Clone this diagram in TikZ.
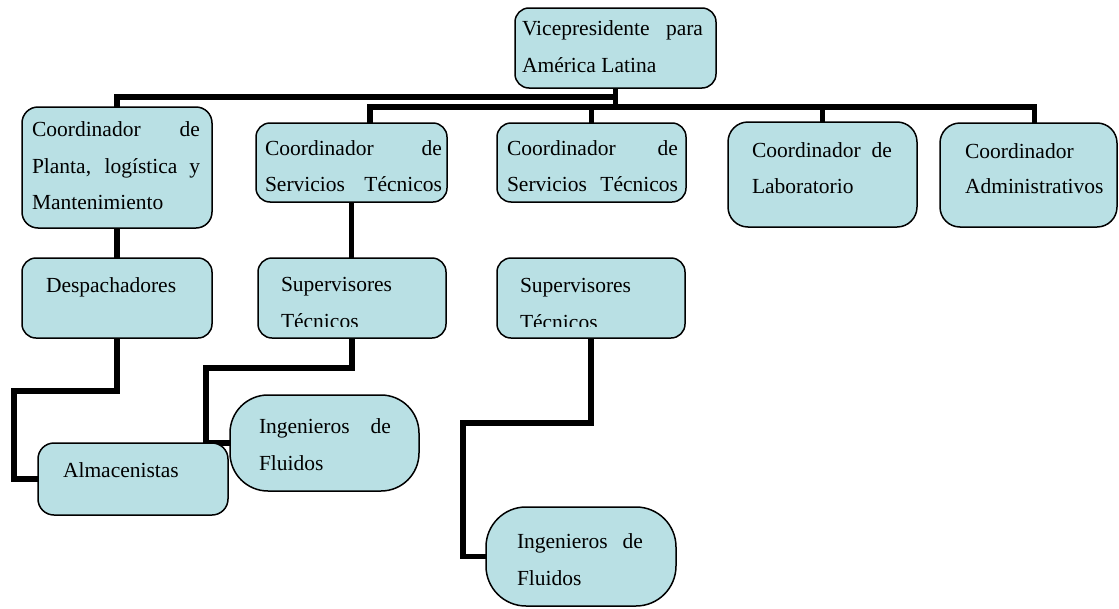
\documentclass[tikz,border=0pt]{standalone}
\usepackage{fontspec}
\setmainfont{Liberation Serif}
\usetikzlibrary{backgrounds}
\definecolor{boxfill}{RGB}{185,224,228}
\begin{document}
\begin{tikzpicture}[x=1pt,y=-1pt,
  font=\fontsize{21.5}{25}\selectfont,
  box/.style={draw=black, line width=1.5pt, fill=boxfill, rounded corners=#1, inner sep=0pt, outer sep=0pt},
  box/.default=14pt,
  txt/.style={anchor=base west, inner sep=0pt, outer sep=0pt},
  conn/.style={line width=5.5pt, draw=black}]
\useasboundingbox (0,0) rectangle (1119,608);

% boxes
\node[box, minimum width=201pt, minimum height=80pt] (vp) at (615.5,48) {};
\node[box=16pt, minimum width=190pt, minimum height=121pt] (planta) at (117,167.5) {};
\node[box, minimum width=191pt, minimum height=79pt] (serv1) at (351.5,162.5) {};
\node[box, minimum width=189pt, minimum height=79pt] (serv2) at (591.5,162.5) {};
\node[box=20pt, minimum width=189pt, minimum height=105pt] (lab) at (822.5,174.5) {};
\node[box=20pt, minimum width=177pt, minimum height=104pt] (admin) at (1028.5,175) {};
\node[box, minimum width=190pt, minimum height=80pt] (desp) at (117,298) {};
\node[box, minimum width=188pt, minimum height=80pt] (sup1) at (352,298) {};
\node[box, minimum width=188pt, minimum height=80pt] (sup2) at (591,298) {};
\node[box=16pt, minimum width=190pt, minimum height=72pt] (alm) at (133,479) {};
\node[box=38pt, minimum width=189pt, minimum height=96pt] (ing1) at (324.5,443) {};
\node[box=40pt, minimum width=190pt, minimum height=99pt] (ing2) at (581,556.5) {};

% connectors
\begin{scope}[on background layer]
\coordinate (hA) at (615.5,97);
\coordinate (hB) at (615.5,107);
\coordinate (s1) at (370,123);
\coordinate (s5) at (1034.5,123);
\draw[conn] (vp.south) -- (hB);
\draw[conn] (hA) -| (planta.north);
\draw[conn] (s1) |- (hB) -| (s5);
\draw[conn] (serv2.north) -- (serv2.north |- hB);
\draw[conn] (lab.north) -- (lab.north |- hB);
\draw[conn] (planta.south) -- (desp.north);
\draw[conn] (serv1.south) -- (serv1.south |- sup1.north);
\coordinate (k1) at (14,391);
\draw[conn] (desp.south) |- (k1) |- (alm.west);
\coordinate (k2) at (206,368);
\draw[conn] (sup1.south) |- (k2) |- (ing1.west);
\coordinate (k3) at (463,423);
\draw[conn] (sup2.south) |- (k3) |- (ing2.west);
\end{scope}

% texts
\node[txt] (vpa) at (522,35) {\makebox[181pt][s]{Vicepresidente para}};
\node[txt] (vpb) at (522,72) {América Latina};
\node[txt] (pla) at (32,136) {\makebox[168pt][s]{Coordinador de}};
\node[txt] (plb) at (32,173) {\makebox[168pt][s]{Planta, logística y}};
\node[txt] (plc) at (32,209) {Mantenimiento};
\node[txt] (s1a) at (265,155) {\makebox[177pt][s]{Coordinador de}};
\node[txt] (s1b) at (265,191) {\makebox[177pt][s]{Servicios Técnicos}};
\node[txt] (s2a) at (507,155) {\makebox[171pt][s]{Coordinador de}};
\node[txt] (s2b) at (507,191) {\makebox[171pt][s]{Servicios Técnicos}};
\node[txt] (laa) at (752,157) {\makebox[140pt][s]{Coordinador de}};
\node[txt] (lab2) at (752,193) {Laboratorio};
\node[txt] (ada) at (965,158) {Coordinador};
\node[txt] (adb) at (965,193) {Administrativos};
\node[txt] (dea) at (46,292) {Despachadores};
\node[txt] (su1a) at (281,291) {Supervisores};
\begin{scope}
\clip (258,300) rectangle (446,326);
\node[txt] (su1b) at (281,328) {Técnicos};
\end{scope}
\node[txt] (su2a) at (520,292) {Supervisores};
\begin{scope}
\clip (497,300) rectangle (685,326);
\node[txt] (su2b) at (520,329) {Técnicos};
\end{scope}
\node[txt] (ala) at (63,477) {Almacenistas};
\node[txt] (i1a) at (259,433) {\makebox[132pt][s]{Ingenieros de}};
\node[txt] (i1b) at (259,470) {Fluidos};
\node[txt] (i2a) at (517,548) {\makebox[126pt][s]{Ingenieros de}};
\node[txt] (i2b) at (517,585) {Fluidos};
\end{tikzpicture}
\end{document}
